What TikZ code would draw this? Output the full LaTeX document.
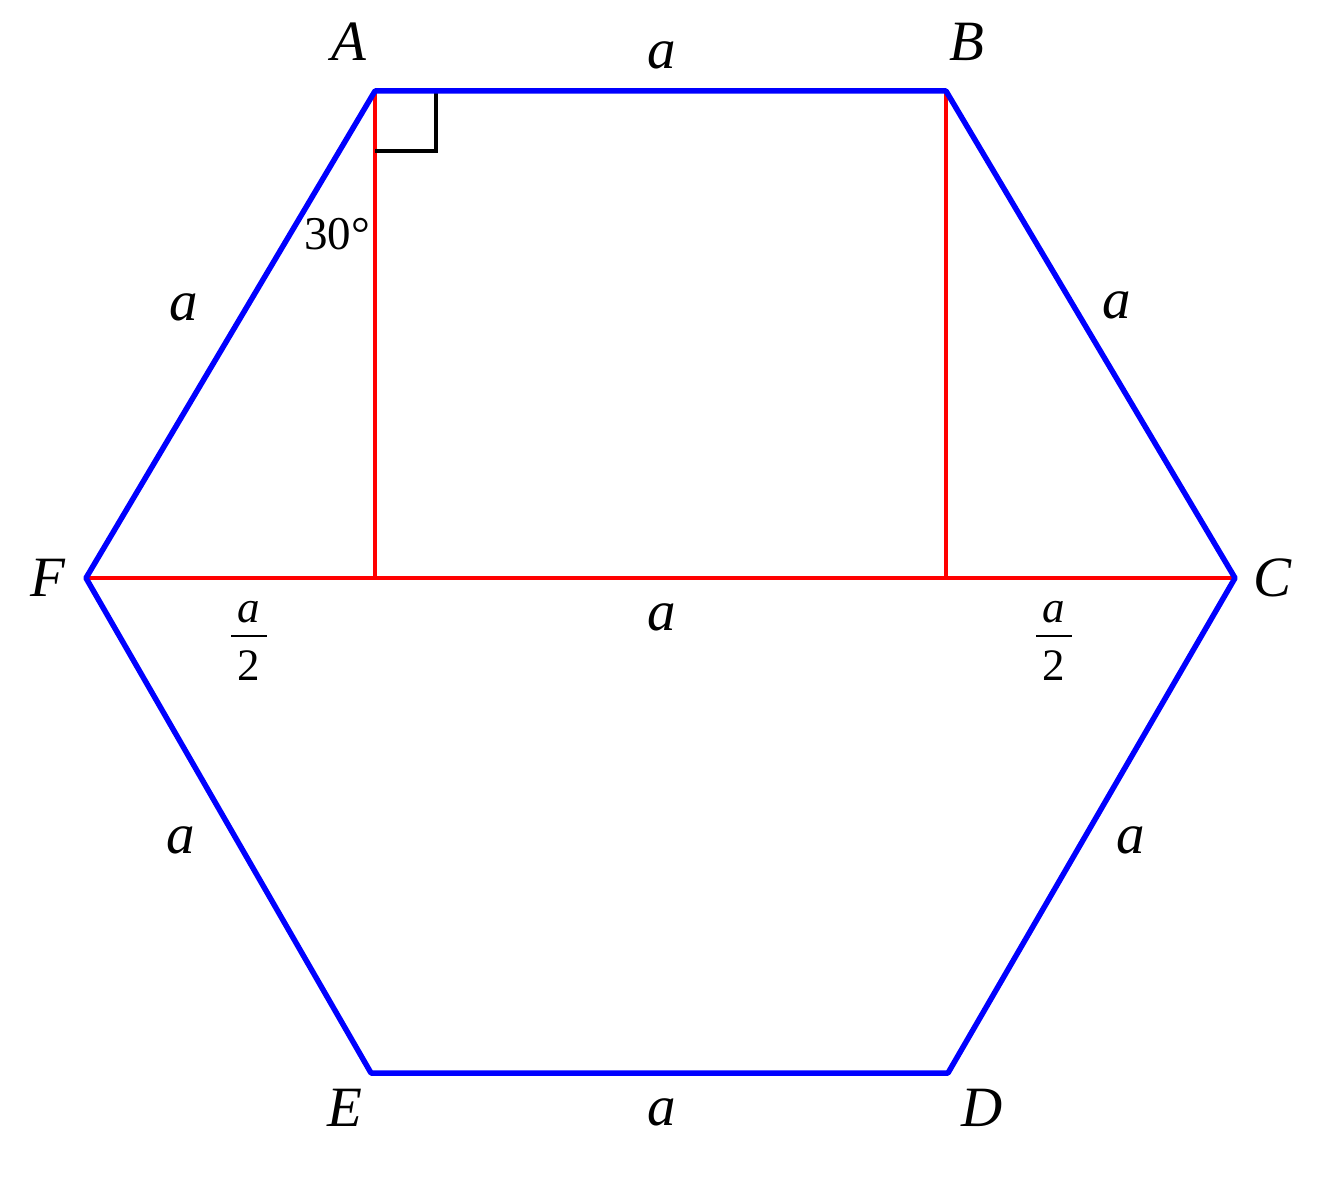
\documentclass[tikz,border=0pt]{standalone}
\usepackage{fontspec}
\setmainfont{Liberation Serif}
\begin{document}
\begin{tikzpicture}[x=1pt,y=-1pt,
  hexedge/.style={draw=blue,line width=5.5pt,line join=round,line cap=round},
  rededge/.style={draw=red,line width=4.2pt},
  lbl/.style={font=\fontsize{57}{60}\selectfont\itshape,inner sep=0pt},
  deg/.style={font=\fontsize{47}{50}\selectfont,inner sep=0pt},
  fnum/.style={font=\fontsize{45}{48}\selectfont\itshape,inner sep=0pt},
  fden/.style={font=\fontsize{45}{48}\selectfont,inner sep=0pt},
  fbar/.style={line width=2.4pt}]
\useasboundingbox (0,0) rectangle (1324,1188);
\fill[white] (0,0) rectangle (1324,1188);
\coordinate (A) at (375,91);
\coordinate (B) at (946,91);
\coordinate (C) at (1235,578);
\coordinate (D) at (948,1073);
\coordinate (E) at (371,1073);
\coordinate (F) at (86,578);
\coordinate (H1) at (375,578);
\coordinate (H2) at (946,578);
% red lines
\draw[rededge] (A) -- (H1);
\draw[rededge] (B) -- (H2);
\draw[rededge] (F) -- (C);
% right angle
\draw[line width=3.2pt] (436,91) -- (436,151) -- (375,151);
% hexagon
\draw[hexedge] (A) -- (B) -- (C) -- (D) -- (E) -- (F) -- cycle;
% vertex labels
\node[lbl] (lA) at (349,42) {A};
\node[lbl] (lB) at (967,42) {B};
\node[lbl] (lC) at (1272,578) {C};
\node[lbl] (lD) at (982,1108) {D};
\node[lbl] (lE) at (345,1108) {E};
\node[lbl] (lF) at (48,578) {F};
% side labels
\node[lbl] (s1) at (662,55) {a};
\node[lbl] (s2) at (184,307) {a};
\node[lbl] (s3) at (1117,305) {a};
\node[lbl] (s4) at (662,617) {a};
\node[lbl] (s5) at (181,840) {a};
\node[lbl] (s6) at (1131,840) {a};
\node[lbl] (s7) at (662,1112) {a};
% fractions a/2
\node[fnum] (f1n) at (249,612) {a};
\node[fden] (f1d) at (249,666) {2};
\draw[fbar] (231,636) -- (267,636);
\node[fnum] (f2n) at (1054,612) {a};
\node[fden] (f2d) at (1054,666) {2};
\draw[fbar] (1036,636) -- (1072,636);
\node[deg] (ang) at (337,234) {30°};
\end{tikzpicture}
\end{document}
